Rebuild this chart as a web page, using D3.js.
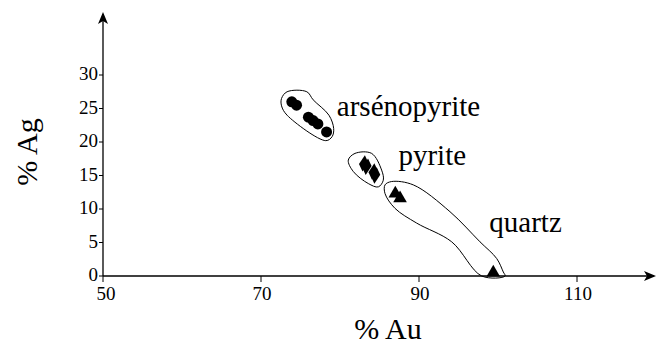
<!DOCTYPE html>
<html>
<head>
<meta charset="utf-8">
<script src="https://cdn.jsdelivr.net/npm/d3@7"></script>
<style>
	body { margin:0; background:#fff; }
</style>
</head>
<body>
<div id="chart"></div>
<script>
// tick labels
var xTicks = [50, 70, 90, 110];
var yTicks = [0, 5, 10, 15, 20, 25, 30];

// % Au, % Ag for each mineral
var arsenopyrite = [[73.9, 26.0], [74.5, 25.5], [76.0, 23.7], [76.6, 23.2], [77.2, 22.7], [78.3, 21.5]];
var pyrite = [[83.0, 16.8], [83.4, 16.3], [84.2, 15.6], [84.5, 15.0]];
var quartz = [[87.0, 12.3], [87.6, 11.6], [99.4, 0.5]];

// hand drawn envelopes around each group (% Au, % Ag)
var envArseno = [[72.6, 26.5], [73.3, 27.5], [75.8, 27.5], [76.6, 26.3], [78.6, 24.0], [79.2, 22.0], [79.0, 20.8], [78.2, 20.2], [73.3, 24.0], [72.6, 25.4]];
var envPyrite = [[81.05, 17.3], [81.9, 18.3], [84.0, 18.3], [85.27, 15.8], [85.48, 14.3], [84.85, 13.3], [83.58, 13.8], [81.68, 15.6]];
var envQuartz = [[85.7, 13.6], [86.54, 14.1], [89.28, 13.6], [93.92, 9.6], [97.72, 5.1], [99.84, 2.6], [100.67, 0.6], [100.9, 0], [97.94, 0], [94.14, 5.1], [89.7, 7.9], [86.96, 10.1], [85.7, 12.3]];

var labels = ["arsénopyrite", "pyrite", "quartz"];

var W = 664, H = 344;
var FONT = "Liberation Serif";
var svg = d3.select("#chart").append("svg")
	.attr("width", W)
	.attr("height", H)
	.attr("font-family", FONT);

var x = d3.scaleLinear().domain([50, 110]).range([103, 577]);
var y = d3.scaleLinear().domain([0, 30]).range([276, 75]);

var line = d3.line()
	.x(function(d){ return x(d[0]); })
	.y(function(d){ return y(d[1]); })
	.curve(d3.curveCatmullRomClosed.alpha(0.5));

// envelopes
[envArseno, envPyrite, envQuartz].forEach(function(env){
	svg.append("path")
		.attr("d", line(env))
		.attr("fill", "none")
		.attr("stroke", "#000")
		.attr("stroke-width", 1);
});

// axes
var x0 = x(50), y0 = y(0);
svg.append("line")
	.attr("x1", x0).attr("y1", y0)
	.attr("x2", 654).attr("y2", y0)
	.attr("stroke", "#000").attr("stroke-width", 1.3);
svg.append("line")
	.attr("x1", x0).attr("y1", y0)
	.attr("x2", x0).attr("y2", 14)
	.attr("stroke", "#000").attr("stroke-width", 1.3);
// arrow heads
svg.append("path")
	.attr("d", "M656," + y0 + " L644," + (y0 - 5) + " L647," + y0 + " L644," + (y0 + 5) + "Z")
	.attr("fill", "#000");
svg.append("path")
	.attr("d", "M" + x0 + ",12 L" + (x0 - 5) + ",24 L" + x0 + ",21 L" + (x0 + 5) + ",24Z")
	.attr("fill", "#000");

// x ticks
svg.selectAll(".xt").data(xTicks).enter().append("line")
	.attr("x1", function(d){ return x(d); })
	.attr("x2", function(d){ return x(d); })
	.attr("y1", y0).attr("y2", y0 + 6)
	.attr("stroke", "#000");
svg.selectAll(".xl").data(xTicks).enter().append("text")
	.attr("x", function(d){ return x(d) + (d == 50 ? 3 : 1); })
	.attr("y", y0 + 24)
	.attr("text-anchor", "middle")
	.attr("font-size", "19px")
	.text(function(d){ return d; });

// y ticks
svg.selectAll(".yt").data(yTicks).enter().append("line")
	.attr("x1", x0 - 4).attr("x2", x0)
	.attr("y1", function(d){ return y(d); })
	.attr("y2", function(d){ return y(d); })
	.attr("stroke", "#000");
svg.selectAll(".yl").data(yTicks).enter().append("text")
	.attr("x", x0 - 5)
	.attr("y", function(d){ return y(d) + 5; })
	.attr("text-anchor", "end")
	.attr("font-size", "19px")
	.text(function(d){ return d; });

// axis titles
svg.append("text")
	.attr("x", 388).attr("y", 339)
	.attr("text-anchor", "middle")
	.attr("font-size", "30px")
	.text("% Au");
svg.append("text")
	.attr("transform", "translate(37,152) rotate(-90)")
	.attr("text-anchor", "middle")
	.attr("font-size", "30px")
	.text("% Ag");

// points
svg.selectAll(".ars").data(arsenopyrite).enter().append("circle")
	.attr("cx", function(d){ return x(d[0]); })
	.attr("cy", function(d){ return y(d[1]); })
	.attr("r", 5.5)
	.attr("fill", "#000");
svg.selectAll(".pyr").data(pyrite).enter().append("path")
	.attr("d", d3.symbol().type(d3.symbolDiamond).size(70))
	.attr("transform", function(d){ return "translate(" + x(d[0]) + "," + y(d[1]) + ") rotate(45) scale(0.9,1.2) rotate(-45)"; })
	.attr("fill", "#000");
svg.selectAll(".qtz").data(quartz).enter().append("path")
	.attr("d", d3.symbol().type(d3.symbolTriangle).size(80))
	.attr("transform", function(d){ return "translate(" + x(d[0]) + "," + y(d[1]) + ")"; })
	.attr("fill", "#000");

// group labels, anchored in data units
var labelPos = [[79.6, 23.9], [87.4, 16.6], [98.9, 6.6]];
svg.selectAll(".lab").data(labels).enter().append("text")
	.attr("x", function(d, i){ return x(labelPos[i][0]); })
	.attr("y", function(d, i){ return y(labelPos[i][1]); })
	.attr("font-size", "29px")
	.text(function(d){ return d; });
</script>
</body>
</html>
